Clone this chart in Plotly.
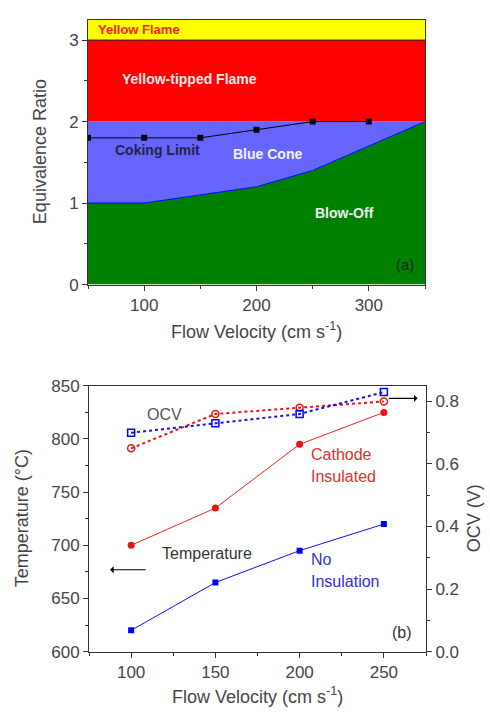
import plotly.graph_objects as go

# ---- Panel (a) data ----
vel_a = [50, 100, 150, 200, 250, 300, 350]
blowoff = [1.0, 1.0, 1.1, 1.2, 1.4, 1.7, 2.0]
blue_top = [2.0] * 7
red_top = [3.0] * 7
yellow_top = [3.25] * 7
coking_vel = [50, 100, 150, 200, 250, 300]
coking = [1.8, 1.8, 1.8, 1.9, 2.0, 2.0]

# ---- Panel (b) data ----
vel_b = [100, 150, 200, 250]
temp_cath = [700, 735, 795, 825]
temp_noins = [620, 665, 695, 720]
ocv_cath = [0.65, 0.76, 0.78, 0.80]
ocv_noins = [0.70, 0.73, 0.76, 0.83]

W, H = 490, 722
def px(x): return x / W
def py(y): return 1 - y / H

FONT = "Arial, Liberation Sans, sans-serif"
GRAY = "#444444"

fig = go.Figure()

# panel (a) filled regions
fig.add_trace(go.Scatter(x=vel_a, y=blowoff, mode="lines", fill="tozeroy",
                         fillcolor="#008000", line=dict(color="#0000ff", width=1),
                         xaxis="x", yaxis="y", hoverinfo="skip"))
fig.add_trace(go.Scatter(x=vel_a, y=blue_top, mode="lines", fill="tonexty",
                         fillcolor="#6666ff", line=dict(color="#6666ff", width=0),
                         xaxis="x", yaxis="y", hoverinfo="skip"))
fig.add_trace(go.Scatter(x=vel_a, y=red_top, mode="lines", fill="tonexty",
                         fillcolor="#ff0000", line=dict(color="#222222", width=1),
                         xaxis="x", yaxis="y", hoverinfo="skip"))
fig.add_trace(go.Scatter(x=vel_a, y=yellow_top, mode="lines", fill="tonexty",
                         fillcolor="#ffff00", line=dict(color="#ffff00", width=0),
                         xaxis="x", yaxis="y", hoverinfo="skip"))
fig.add_trace(go.Scatter(x=coking_vel, y=coking, mode="lines+markers",
                         line=dict(color="black", width=1),
                         marker=dict(symbol="square", size=6, color="black"),
                         xaxis="x", yaxis="y"))

# panel (b)
fig.add_trace(go.Scatter(x=vel_b, y=temp_cath, mode="lines+markers",
                         line=dict(color="#ee2222", width=1),
                         marker=dict(symbol="circle", size=7, color="#ee1111"),
                         xaxis="x2", yaxis="y2"))
fig.add_trace(go.Scatter(x=vel_b, y=temp_noins, mode="lines+markers",
                         line=dict(color="#1111ee", width=1),
                         marker=dict(symbol="square", size=6, color="#0000ff"),
                         xaxis="x2", yaxis="y2"))
fig.add_trace(go.Scatter(x=vel_b, y=ocv_cath, mode="lines+markers",
                         line=dict(color="#ee1111", width=2, dash="dot"),
                         marker=dict(symbol="circle-open", size=7, color="#ee1111", line=dict(width=1.5)),
                         xaxis="x2", yaxis="y3"))
fig.add_trace(go.Scatter(x=vel_b, y=ocv_noins, mode="lines+markers",
                         line=dict(color="#1111ee", width=2, dash="dot"),
                         marker=dict(symbol="square-open", size=7, color="#0000ff", line=dict(width=1.5)),
                         xaxis="x2", yaxis="y3"))

axis_common = dict(showgrid=False, zeroline=False, ticks="outside", ticklen=5,
                   tickcolor="#333333", linecolor="#333333", linewidth=1,
                   tickfont=dict(family=FONT, size=17, color=GRAY))

fig.update_layout(
    width=W, height=H, margin=dict(l=0, r=0, t=0, b=0),
    paper_bgcolor="white", plot_bgcolor="white", showlegend=False,
    font=dict(family=FONT),
    xaxis=dict(domain=[px(88), px(425)], range=[50, 350], anchor="y",
               tickvals=[100, 200, 300], showline=True, mirror=True,
               minor=dict(tickvals=[50, 150, 250, 350], ticks="outside", ticklen=3, tickcolor="#333333"),
               **axis_common),
    yaxis=dict(domain=[py(283), py(11)], range=[0, 3.25], anchor="x",
               tickvals=[0, 1, 2, 3], showline=True, mirror=True,
               minor=dict(tickvals=[0.5, 1.5, 2.5], ticks="outside", ticklen=3, tickcolor="#333333"),
               **axis_common),
    xaxis2=dict(domain=[px(89), px(426)], range=[75, 275], anchor="y2",
                tickvals=[100, 150, 200, 250], showline=True, mirror=True,
                minor=dict(tickvals=[75, 125, 175, 225, 275], ticks="outside", ticklen=3, tickcolor="#333333"),
                **axis_common),
    yaxis2=dict(domain=[py(660), py(387)], range=[600, 850], anchor="x2",
                tickvals=[600, 650, 700, 750, 800, 850], showline=True, mirror=False,
                minor=dict(tickvals=[625, 675, 725, 775, 825], ticks="outside", ticklen=3, tickcolor="#333333"),
                **axis_common),
    yaxis3=dict(domain=[py(660), py(387)], range=[0, 0.85], anchor="x2", overlaying="y2",
                side="right", tickvals=[0, 0.2, 0.4, 0.6, 0.8], tickformat=".1f", showline=True,
                minor=dict(tickvals=[0.1, 0.3, 0.5, 0.7], ticks="outside", ticklen=3, tickcolor="#333333"),
                **axis_common),
)

def ann(text, x, y, size, color, bold=False, xanchor="left", **kw):
    t = f"<b>{text}</b>" if bold else text
    fig.add_annotation(text=t, x=px(x), y=py(y), xref="paper", yref="paper",
                       xanchor=xanchor, yanchor="middle", showarrow=False,
                       font=dict(family=FONT, size=size, color=color), **kw)

# panel (a) labels
ann("Yellow Flame", 96, 21, 13, "#ff2020", bold=True)
ann("Yellow-tipped Flame", 120, 72, 14, "#ffe8e8", bold=True)
ann("Coking Limit", 113, 145, 14, "#22224a", bold=True)
ann("Blue Cone", 231, 149, 14, "#f4f4ff", bold=True)
ann("Blow-Off", 313, 209, 14, "#e8f4e8", bold=True)
ann("(a)", 394, 262, 15, "#222222")
ann("Equivalence Ratio", 40, 147, 18, GRAY, xanchor="center", textangle=-90)
ann("Flow Velocity (cm s<sup>-1</sup>)", 256, 330, 18, GRAY, xanchor="center")

# panel (b) labels
ann("OCV", 145, 416, 16, "#555555")
ann("Temperature", 160, 559, 16, "#333333")
ann("Cathode", 309, 458, 16, "#e03030")
ann("Insulated", 309, 480, 16, "#e03030")
ann("No", 309, 565, 16, "#3030e0")
ann("Insulation", 309, 588, 16, "#3030e0")
ann("(b)", 390, 640, 16, "#333333")
ann("Temperature (°C)", 22, 523, 18, GRAY, xanchor="center", textangle=-90)
ann("OCV (V)", 474, 523, 18, GRAY, xanchor="center", textangle=-90)
ann("Flow Velocity (cm s<sup>-1</sup>)", 257, 705, 18, GRAY, xanchor="center")

# arrows
fig.add_annotation(x=87.5, y=677, xref="x2", yref="y2", ax=109.5, ay=677,
                   axref="x2", ayref="y2", showarrow=True, arrowhead=1,
                   arrowsize=1, arrowwidth=1.2, arrowcolor="black", text="")
fig.add_annotation(x=270, y=0.81, xref="x2", yref="y3", ax=252, ay=0.81,
                   axref="x2", ayref="y3", showarrow=True, arrowhead=1,
                   arrowsize=1, arrowwidth=1.2, arrowcolor="black", text="")

fig.write_html("out.html")
